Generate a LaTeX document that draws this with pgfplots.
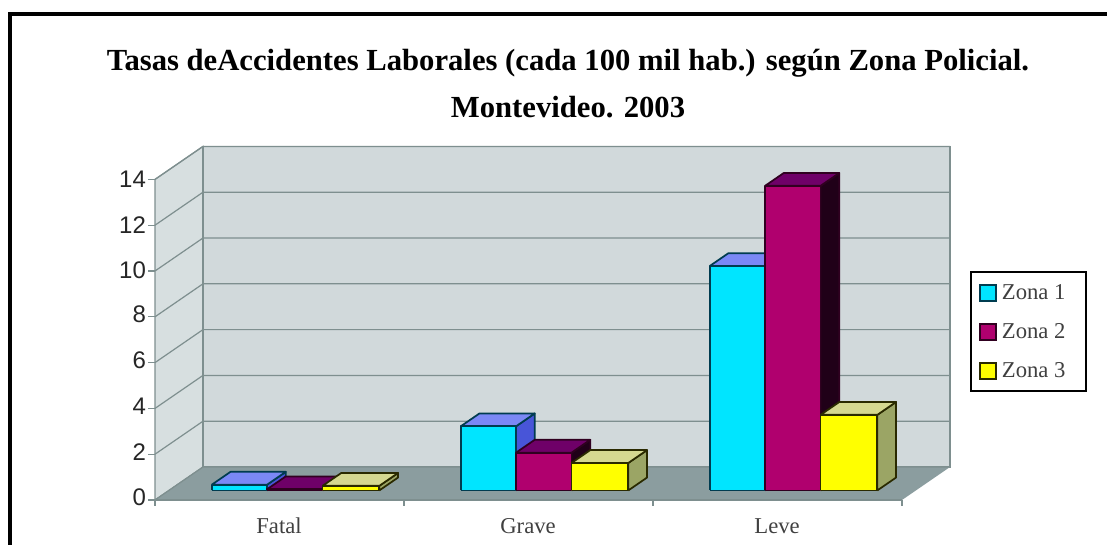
\documentclass[border=0pt]{standalone}
\usepackage{pgfplots}
\pgfplotsset{compat=1.18}
\usepackage{fontspec}
\setmainfont{Liberation Serif}
\newfontfamily\arialf{Liberation Sans}
\definecolor{wallb}{HTML}{D1D9DB}
\definecolor{walll}{HTML}{D7DFE0}
\definecolor{floorc}{HTML}{8B9D9F}
\definecolor{gridc}{HTML}{7E8F8F}
\definecolor{af}{HTML}{00E5FF}\definecolor{at}{HTML}{7B88F5}\definecolor{as}{HTML}{4855D8}\definecolor{ae}{HTML}{003C50}
\definecolor{bf}{HTML}{B0006E}\definecolor{bt}{HTML}{6F0068}\definecolor{bs}{HTML}{200018}\definecolor{be}{HTML}{300020}
\definecolor{cf}{HTML}{FFFF00}\definecolor{ct}{HTML}{D5D890}\definecolor{cs}{HTML}{9BA565}\definecolor{ce}{HTML}{2A2A00}
% #1 x0, #2 x1, #3 value, #4 colour prefix
\newcommand{\barthree}[4]{%
\addplot3[forget plot,mark=none,fill=#4s,draw=#4e,line width=1.3pt,line join=round] coordinates {(#2,0.29,0) (#2,0.68,0) (#2,0.68,#3) (#2,0.29,#3) (#2,0.29,0)};
\addplot3[forget plot,mark=none,fill=#4t,draw=#4e,line width=1.3pt,line join=round] coordinates {(#1,0.29,#3) (#2,0.29,#3) (#2,0.68,#3) (#1,0.68,#3) (#1,0.29,#3)};
\addplot3[forget plot,mark=none,fill=#4f,draw=#4e,line width=1.3pt,line join=round] coordinates {(#1,0.29,0) (#2,0.29,0) (#2,0.29,#3) (#1,0.29,#3) (#1,0.29,0)};
}
\newcommand{\gridz}[1]{%
\addplot3[forget plot,mark=none,draw=gridc,line width=0.9pt] coordinates {(0,0,#1) (0,1,#1) (3,1,#1)};
\addplot3[forget plot,mark=none,draw=gridc,line width=0.9pt] coordinates {(-0.028,0,#1) (0,0,#1)};
}
\newcommand{\xtk}[1]{%
\addplot3[forget plot,mark=none,draw=gridc,line width=0.9pt] coordinates {(#1,0,0) (#1,0,-0.25)};
}
\begin{document}
\begin{tikzpicture}[x=0.75pt,y=0.75pt]
\path[use as bounding box] (0,0) rectangle (1107,544);
\fill[white] (0,0) rectangle (1107,544);
\draw[black,line width=3pt] (10,-5) -- (10,530) -- (1112,530);
\node[font=\bfseries\fontsize{23}{26}\selectfont] at (568,481) {Tasas deAccidentes Laborales (cada 100 mil hab.) según Zona Policial.};
\node[font=\bfseries\fontsize{23}{26}\selectfont] at (568,437) {Montevideo. 2003};
\begin{axis}[
  at={(116.25pt,33pt)},anchor=origin,
  x={(186.75pt,0pt)},y={(36pt,24.75pt)},z={(0pt,17.175pt)},
  xmin=0,xmax=3,ymin=0,ymax=1,zmin=0,zmax=14,
  clip=false,
  axis line style={draw=none},
  xtick={0.5,1.5,2.5},xticklabels={Fatal,Grave,Leve},
  ytick=\empty,
  ztick={0,2,4,6,8,10,12,14},
  /pgf/number format/assume math mode=true,
  tick style={draw=none},
  major tick length=4pt,
  tick align=outside,
  xtick pos=bottom,
  ztick pos=left,
  zticklabel pos=left,
  xticklabel pos=bottom,
  xticklabel style={font=\fontsize{17}{19}\selectfont,text=black!75,yshift=-8pt,xshift=8.5pt,text height=11pt,text depth=3pt},
  zticklabel style={font=\arialf\fontsize{18}{20}\selectfont,text=black!85,yshift=6.75pt},
  legend style={at={(1.025,0.647)},anchor=north west,draw=black,line width=1.5pt,font=\fontsize{17}{19}\selectfont,row sep=12.5pt,text=black!75,inner xsep=6pt,inner ysep=7pt},
  legend cell align=left,
  legend image code/.code={\draw[#1] (0pt,-6pt) rectangle (12pt,6pt);},
]
% walls and floor
\addplot3[forget plot,mark=none,fill=walll,draw=gridc,line width=0.9pt] coordinates {(0,0,0) (0,1,0) (0,1,14) (0,0,14) (0,0,0)};
\addplot3[forget plot,mark=none,fill=wallb,draw=gridc,line width=0.9pt] coordinates {(0,1,0) (3,1,0) (3,1,14) (0,1,14) (0,1,0)};
\addplot3[forget plot,mark=none,fill=floorc,draw=none] coordinates {(0,0,0) (3,0,0) (3,1,0) (0,1,0) (0,0,0)};
\addplot3[forget plot,mark=none,draw=gridc,line width=0.9pt] coordinates {(0,0,0) (3,0,0)};
\gridz{0}\gridz{2}\gridz{4}\gridz{6}\gridz{8}\gridz{10}\gridz{12}\gridz{14}
\xtk{0}\xtk{1}\xtk{2}\xtk{3}
% Fatal
\barthree{0.172}{0.394}{0.25}{a}
\barthree{0.394}{0.617}{0.05}{b}
\barthree{0.617}{0.845}{0.2}{c}
% Grave
\barthree{1.172}{1.394}{2.8}{a}
\barthree{1.394}{1.617}{1.65}{b}
\barthree{1.617}{1.845}{1.2}{c}
% Leve
\barthree{2.172}{2.394}{9.8}{a}
\barthree{2.394}{2.617}{13.3}{b}
\barthree{2.617}{2.845}{3.3}{c}
\addlegendimage{fill=af,draw=ae,line width=1.3pt}\addlegendentry{\hspace{2pt}Zona 1\rule{7.5pt}{0pt}}
\addlegendimage{fill=bf,draw=be,line width=1.3pt}\addlegendentry{\hspace{2pt}Zona 2\rule{7.5pt}{0pt}}
\addlegendimage{fill=cf,draw=ce,line width=1.3pt}\addlegendentry{\hspace{2pt}Zona 3\rule{7.5pt}{0pt}}
\end{axis}
\end{tikzpicture}
\end{document}
